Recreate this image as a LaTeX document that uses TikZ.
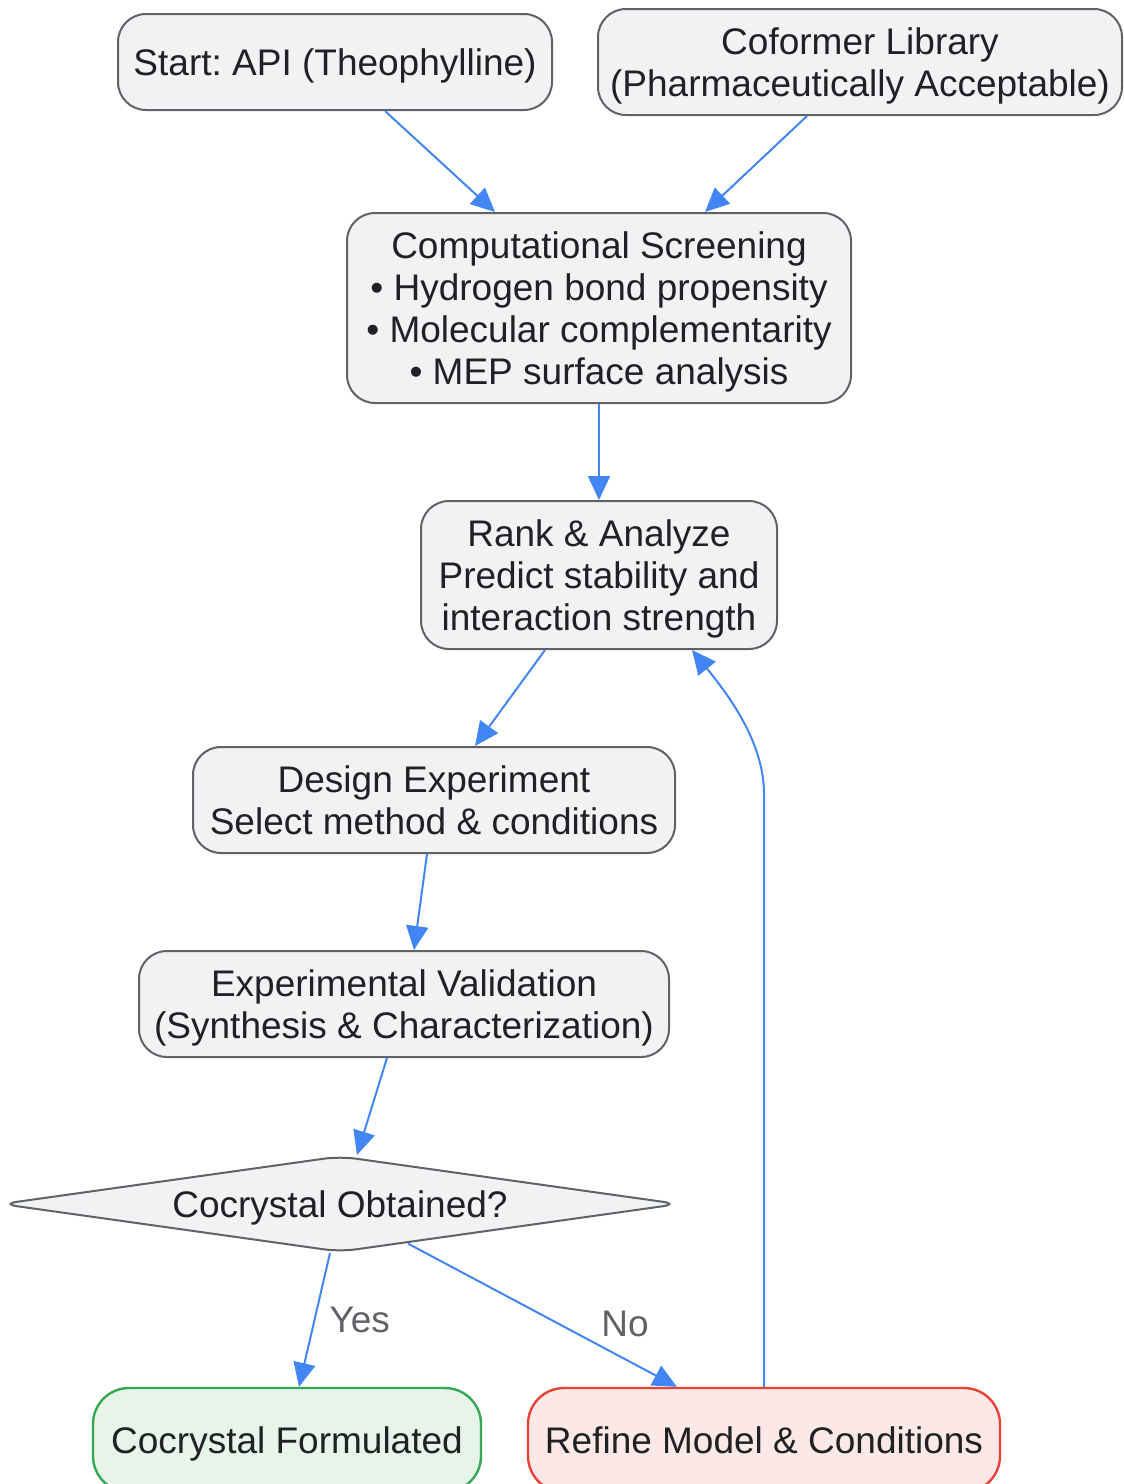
\documentclass[tikz,border=0pt]{standalone}
\usepackage{fontspec}
\setmainfont{Liberation Sans}
\frenchspacing
\usetikzlibrary{shapes.geometric, arrows.meta, positioning}
\definecolor{boxfill}{HTML}{F1F2F4}
\definecolor{boxline}{HTML}{5F6368}
\definecolor{flowblue}{HTML}{4285F4}
\definecolor{okfill}{HTML}{E6F4EA}
\definecolor{okline}{HTML}{34A853}
\definecolor{nofill}{HTML}{FCE8E6}
\definecolor{noline}{HTML}{EA4335}
\definecolor{inktext}{HTML}{202124}
\tikzstyle{process} = [rectangle, rounded corners=14pt,
inner sep=4pt,
align=center,
text depth=0pt,
font=\fontsize{18.5pt}{21pt}\selectfont,
text=inktext,
line width=1pt,
draw=boxline,
fill=boxfill]
\tikzstyle{decision} = [diamond,
aspect=7.2,
rounded corners=8pt,
inner sep=1pt,
text depth=0pt,
minimum width=339pt,
minimum height=48pt,
font=\fontsize{18.5pt}{21pt}\selectfont,
text=inktext,
line width=1pt,
draw=boxline,
fill=boxfill]
\tikzstyle{success} = [process, rounded corners=18pt, draw=okline, fill=okfill, line width=1.2pt]
\tikzstyle{retry} = [process, rounded corners=18pt, draw=noline, fill=nofill, line width=1.2pt]
\tikzstyle{edgelabel} = [font=\fontsize{18.5pt}{21pt}\selectfont, text=boxline, inner sep=0pt]
\tikzstyle{arrow} = [line width=1pt, draw=flowblue, fill=flowblue, -{Triangle[length=12pt,width=11pt]}]

\begin{document}
\begin{tikzpicture}[node distance=50pt]
\useasboundingbox (0,0) rectangle (562pt,-742pt);
\clip (0,0) rectangle (562pt,-742pt);

\node (start) [process, minimum width=217pt, minimum height=48pt] at (167.5pt,-31pt) {Start: API (Theophylline)};
\node (coformer) [process, right of=start, xshift=212.5pt, minimum width=262pt, minimum height=53pt] {Coformer Library\\(Pharmaceutically Acceptable)};
\node (screen) [process, below of=start, xshift=132pt, yshift=-73pt, minimum width=252pt, minimum height=95pt] {Computational Screening\\• Hydrogen bond propensity\\• Molecular complementarity\\• MEP surface analysis};
\draw[arrow] ([xshift=25pt]start.south) -- ([xshift=-52pt]screen.north);
\draw[arrow] ([xshift=-26.5pt]coformer.south) -- ([xshift=53pt]screen.north);

\node (rank) [process, below of=screen, yshift=-83.5pt, minimum width=178pt, minimum height=74pt] {Rank \& Analyze\\Predict stability and\\interaction strength};
\draw[arrow] (screen) -- (rank);
\node (design) [process, below of=rank, xshift=-82.5pt, yshift=-62.5pt, minimum width=241pt, minimum height=53pt] {Design Experiment\\Select method \& conditions};
\draw[arrow] ([xshift=-27pt]rank.south) -- ([xshift=20.5pt]design.north);
\node (validate) [process, below of=design, xshift=-15pt, yshift=-52pt, minimum width=265pt, minimum height=53pt] {Experimental Validation\\(Synthesis \& Characterization)};
\draw[arrow] ([xshift=-3.5pt]design.south) -- ([xshift=5pt]validate.north);

\node (obtained) [decision, below of=validate, xshift=-32pt, yshift=-50pt] {Cocrystal Obtained?};
\draw[arrow] ([xshift=-8.5pt]validate.south) -- ([xshift=8.5pt]obtained.north);

\node (formulated) [success, below of=obtained, xshift=-26.5pt, yshift=-68pt, minimum width=194pt, minimum height=52pt] {Cocrystal Formulated};
\node (refine) [retry, right of=formulated, xshift=188.5pt, minimum width=236pt, minimum height=52pt] {Refine Model \& Conditions};
\draw[arrow] ([xshift=-5pt]obtained.south) -- ([xshift=6pt]formulated.north) node[midway, right=7pt, edgelabel] {Yes};
\draw[arrow] ([xshift=34pt,yshift=4.7pt]obtained.south) -- ([xshift=-43.5pt]refine.north) node[pos=0.7, anchor=south west, edgelabel, inner sep=2pt, yshift=1pt] {No};

% loop back to ranking
\coordinate (loopbend) at ([yshift=296.5pt]refine.north);
\draw[arrow, fill=none] (refine.north) -- (loopbend) .. controls ([yshift=27pt]loopbend) and ([xshift=63pt,yshift=-20.5pt]rank.south) .. ([xshift=46.5pt]rank.south);

\end{tikzpicture}
\end{document}
